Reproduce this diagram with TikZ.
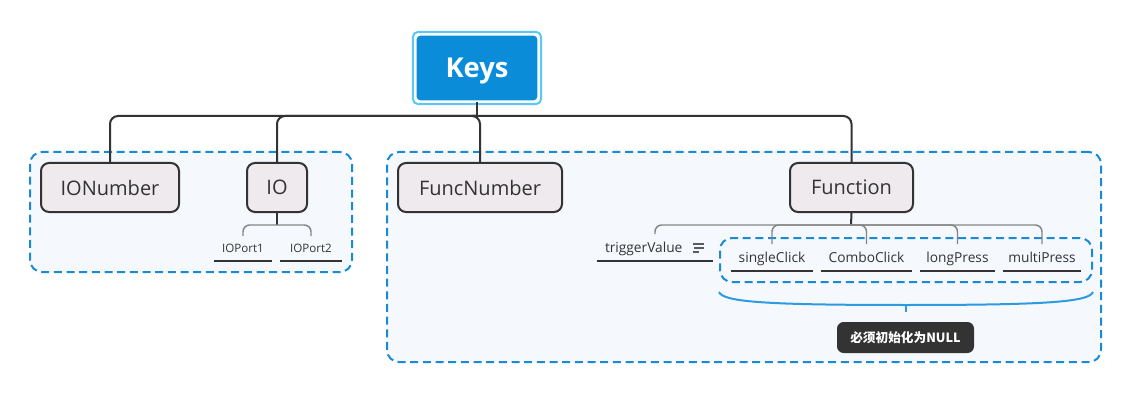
\documentclass[tikz,border=0pt]{standalone}
\usepackage{fontspec}
\setmainfont{Open Sans}
\newfontfamily\cjk{Noto Sans CJK SC}
\usetikzlibrary{calc}
\definecolor{keyblue}{HTML}{0A8CD8}
\definecolor{keyring}{HTML}{5AC8F5}
\definecolor{grpblue}{HTML}{1A8AD4}
\definecolor{grpfill}{HTML}{F5F9FE}
\definecolor{boxfill}{HTML}{EFEAED}
\definecolor{ink}{HTML}{333333}
\definecolor{branchgray}{HTML}{858585}
\definecolor{bracecol}{HTML}{2E9BE0}
\begin{document}
\begin{tikzpicture}[x=0.75pt,y=-0.75pt,
  group/.style={draw=grpblue, fill=grpfill, line width=1.5pt, dash pattern=on 6pt off 3.5pt, rounded corners=9pt, inner sep=0pt},
  topic/.style={draw=ink, fill=boxfill, line width=1.5pt, rounded corners=6pt, minimum height=36.75pt, inner sep=0pt, text depth=0pt, font=\fontsize{15}{18}\selectfont, text=ink},
  rootbox/.style={fill=keyblue, draw=white, line width=1pt, rounded corners=3pt, minimum width=91.5pt, minimum height=49.5pt, inner sep=0pt, text depth=0pt, text=white, font=\fontsize{20.5}{24}\selectfont\bfseries},
  leaf/.style={anchor=south, inner xsep=0pt, inner ysep=6pt, text depth=0pt, text=ink, font=\fontsize{10.3}{12}\selectfont},
  smallleaf/.style={leaf, font=\fontsize{8.7}{10}\selectfont},
  uline/.style={draw=ink, line width=0.9pt},
  stem/.style={draw=ink, line width=1.5pt},
  branchline/.style={draw=branchgray, line width=1.1pt, rounded corners=5pt},
  bracestyle/.style={draw=bracecol, line width=1.5pt},
  note/.style={fill=ink, rounded corners=5pt, minimum width=102.75pt, minimum height=23.25pt, inner sep=0pt, text=white, font=\cjk\bfseries\fontsize{9.5}{11}\selectfont}
]
\useasboundingbox (0,0) rectangle (1133,403);
\fill[white] (0,0) rectangle (1133,403);

% groups
\node[group, minimum width=241.5pt, minimum height=90pt] (g1) at (191,212) {};
\node[group, minimum width=535.5pt, minimum height=157.5pt] (g2) at (744,257) {};
\node[group, minimum width=279pt, minimum height=33pt] (g3) at (906,260) {};

% root
\node[rootbox] (keys) at (477,68) {Keys};
\draw[draw=keyring, line width=1.5pt, rounded corners=4pt] ($(keys.south west)+(-2.5,2.5)$) rectangle ($(keys.north east)+(2.5,-2.5)$);

% topics
\node[topic, minimum width=103.5pt] (ionum) at (110,187.5) {IONumber};
\node[topic, minimum width=45pt] (io) at (277,187.5) {IO};
\node[topic, minimum width=123pt] (fnum) at (480,187.5) {FuncNumber};
\node[topic, minimum width=92.25pt] (func) at (851.5,187.5) {Function};

% bus
\coordinate (bus) at (477,116);
\draw[stem] (keys.south) -- (bus);
\foreach \c in {ionum,io,fnum,func}{
  \draw[stem, rounded corners=6pt] (bus) -| (\c.north);
}

% IO leaves
\node[smallleaf, minimum width=43.5pt] (p1) at (243,261) {IOPort1};
\node[smallleaf, minimum width=46.5pt] (p2) at (311,261) {IOPort2};
\draw[uline] (p1.south west) -- (p1.south east);
\draw[uline] (p2.south west) -- (p2.south east);
\coordinate (ioj) at (277,225);
\draw[stem] (io.south) -- (ioj);
\draw[branchline] (ioj) -| (p1.north);
\draw[branchline] (ioj) -| (p2.north);

% Function leaves
\node[leaf, text width=87pt, align=left] (tv) at (655,261) {\hspace*{6pt}triggerValue};
\node[leaf, minimum width=61.5pt] (sc) at (772,271) {singleClick};
\node[leaf, minimum width=68.25pt] (cc) at (866.5,271) {ComboClick};
\node[leaf, minimum width=56.25pt] (lp) at (957.5,271) {longPress};
\node[leaf, minimum width=58.5pt] (mp) at (1042,271) {multiPress};
\foreach \c in {tv,sc,cc,lp,mp}{
  \draw[uline] (\c.south west) -- (\c.south east);
}
\coordinate (fj) at (851,225);
\draw[stem] (func.south) -- (fj);
\foreach \c in {tv,sc,cc,lp,mp}{
  \draw[branchline] (fj) -| (\c.north);
}

% note icon
\draw[draw=ink!80, line width=0.8pt] (693,244) -- (704,244) (694,248) -- (704,248) (693,252) -- (699,252);

% summary brace
\coordinate (bm) at (906,305);
\draw[bracestyle] ($(g3.south west)+(0,9)$) .. controls +(4,10) and +(-140,0) .. (bm)
  .. controls +(140,0) and +(-4,10) .. ($(g3.south east)+(0,9)$);
\draw[bracestyle] (bm) -- ++(0,7);
\node[note] (nt) at (905.5,337.5) {必须初始化为NULL};
\end{tikzpicture}
\end{document}
